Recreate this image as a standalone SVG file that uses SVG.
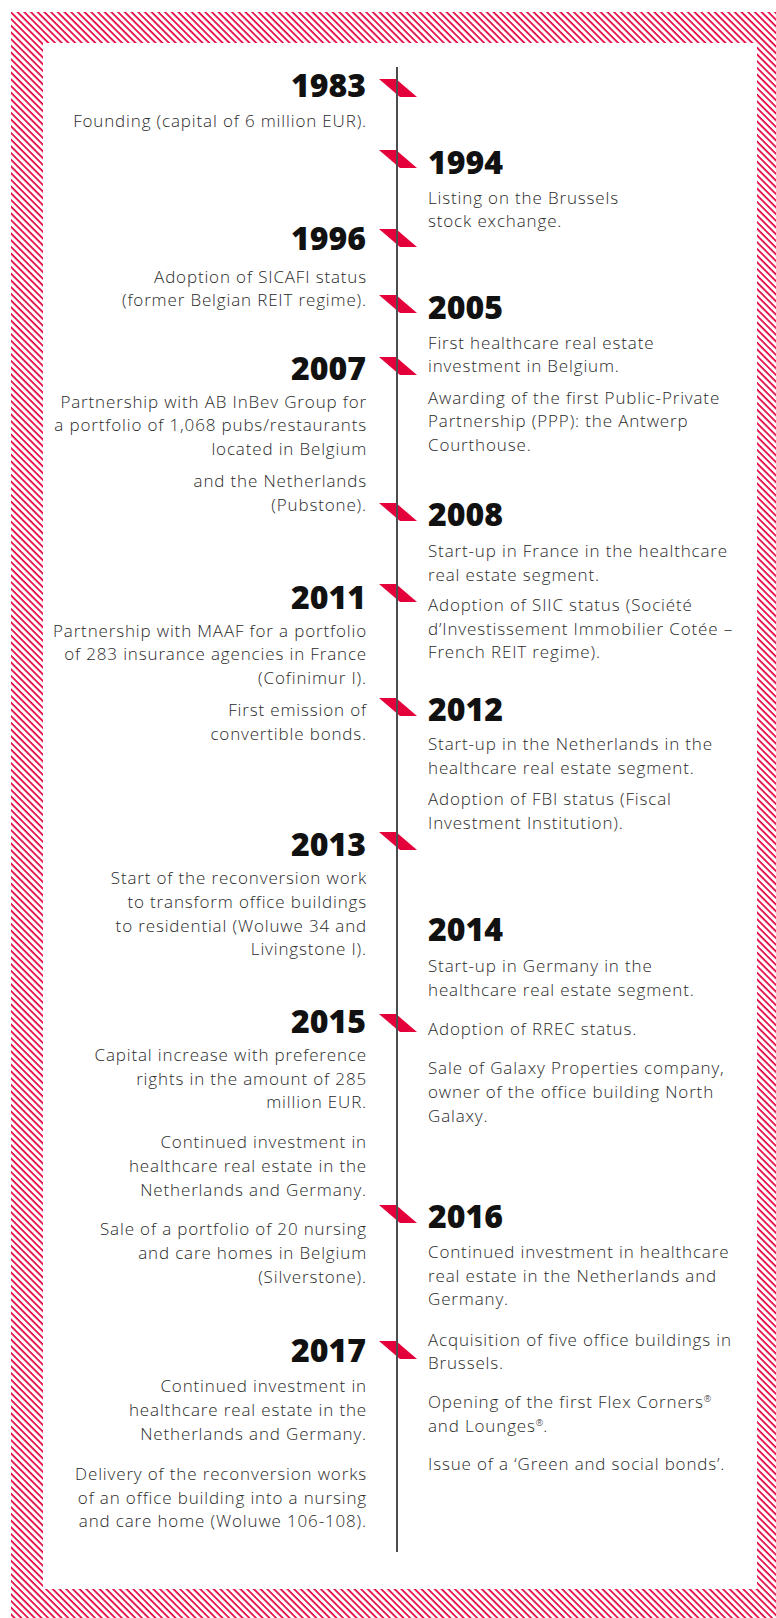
<svg xmlns="http://www.w3.org/2000/svg" width="776" height="1618" viewBox="0 0 776 1618">
<style>
.yr{font-family:"Open Sans","Liberation Sans",sans-serif;font-weight:800;font-size:32px;fill:#111}
.tx{font-family:"Open Sans","Liberation Sans",sans-serif;font-weight:300;font-size:17px;letter-spacing:0.85px;fill:#2a2a2a}
.l{text-anchor:end}
.mk{fill:#e4003b}
.sup{font-size:9px;letter-spacing:0}
</style>
<defs>
<pattern id="hatch" patternUnits="userSpaceOnUse" width="4.74" height="4.74" patternTransform="rotate(45)">
<rect x="0" y="0" width="4.74" height="1.7" fill="#e4003b"/>
</pattern>
<polygon id="mark" class="mk" points="-18,0 -1,0 20,18 3,18"/>
</defs>
<rect width="776" height="1618" fill="#fff"/>
<path id="frame" fill="url(#hatch)" fill-rule="evenodd" d="M11,12 H776 V1618 H11 Z M43,43 V1589 H757 V43 Z"/>

<g id="connectors">
<use href="#mark" x="397" y="79"/>
<use href="#mark" x="397" y="150"/>
<use href="#mark" x="397" y="229"/>
<use href="#mark" x="397" y="295"/>
<use href="#mark" x="397" y="357"/>
<use href="#mark" x="397" y="503"/>
<use href="#mark" x="397" y="584"/>
<use href="#mark" x="397" y="698"/>
<use href="#mark" x="397" y="832"/>
<use href="#mark" x="397" y="1014"/>
<use href="#mark" x="397" y="1205"/>
<use href="#mark" x="397" y="1341"/>
<line x1="397" y1="67" x2="397" y2="1552" stroke="#4d4d4d" stroke-width="2"/>
</g>

<g id="y1983">
<text class="yr l" x="366" y="97">1983</text>
<text class="tx l" x="367" y="127">Founding (capital of 6 million EUR).</text>
</g>
<g id="y1994">
<text class="yr" x="428" y="174">1994</text>
<text class="tx" x="428" y="204">Listing on the Brussels</text>
<text class="tx" x="428" y="227">stock exchange.</text>
</g>
<g id="y1996">
<text class="yr l" x="366" y="250">1996</text>
<text class="tx l" x="367" y="283">Adoption of SICAFI status</text>
<text class="tx l" x="367" y="306">(former Belgian REIT regime).</text>
</g>
<g id="y2005">
<text class="yr" x="428" y="319">2005</text>
<text class="tx" x="428" y="349">First healthcare real estate</text>
<text class="tx" x="428" y="372">investment in Belgium.</text>
<text class="tx" x="428" y="404">Awarding of the first Public-Private</text>
<text class="tx" x="428" y="427">Partnership (PPP): the Antwerp</text>
<text class="tx" x="428" y="451">Courthouse.</text>
</g>
<g id="y2007">
<text class="yr l" x="366" y="380">2007</text>
<text class="tx l" x="367" y="408">Partnership with AB InBev Group for</text>
<text class="tx l" x="367" y="431">a portfolio of 1,068 pubs/restaurants</text>
<text class="tx l" x="367" y="455">located in Belgium</text>
<text class="tx l" x="367" y="487">and the Netherlands</text>
<text class="tx l" x="367" y="511">(Pubstone).</text>
</g>
<g id="y2008">
<text class="yr" x="428" y="526">2008</text>
<text class="tx" x="428" y="557">Start-up in France in the healthcare</text>
<text class="tx" x="428" y="581">real estate segment.</text>
<text class="tx" x="428" y="611">Adoption of SIIC status (Société</text>
<text class="tx" x="428" y="635">d’Investissement Immobilier Cotée –</text>
<text class="tx" x="428" y="658">French REIT regime).</text>
</g>
<g id="y2011">
<text class="yr l" x="366" y="609">2011</text>
<text class="tx l" x="367" y="637">Partnership with MAAF for a portfolio</text>
<text class="tx l" x="367" y="660">of 283 insurance agencies in France</text>
<text class="tx l" x="367" y="684">(Cofinimur I).</text>
<text class="tx l" x="367" y="716">First emission of</text>
<text class="tx l" x="367" y="740">convertible bonds.</text>
</g>
<g id="y2012">
<text class="yr" x="428" y="721">2012</text>
<text class="tx" x="428" y="750">Start-up in the Netherlands in the</text>
<text class="tx" x="428" y="774">healthcare real estate segment.</text>
<text class="tx" x="428" y="805">Adoption of FBI status (Fiscal</text>
<text class="tx" x="428" y="829">Investment Institution).</text>
</g>
<g id="y2013">
<text class="yr l" x="366" y="856">2013</text>
<text class="tx l" x="367" y="884">Start of the reconversion work</text>
<text class="tx l" x="367" y="908">to transform office buildings</text>
<text class="tx l" x="367" y="932">to residential (Woluwe 34 and</text>
<text class="tx l" x="367" y="955">Livingstone I).</text>
</g>
<g id="y2014">
<text class="yr" x="428" y="941">2014</text>
<text class="tx" x="428" y="972">Start-up in Germany in the</text>
<text class="tx" x="428" y="996">healthcare real estate segment.</text>
<text class="tx" x="428" y="1035">Adoption of RREC status.</text>
<text class="tx" x="428" y="1074">Sale of Galaxy Properties company,</text>
<text class="tx" x="428" y="1098">owner of the office building North</text>
<text class="tx" x="428" y="1122">Galaxy.</text>
</g>
<g id="y2015">
<text class="yr l" x="366" y="1033">2015</text>
<text class="tx l" x="367" y="1061">Capital increase with preference</text>
<text class="tx l" x="367" y="1085">rights in the amount of 285</text>
<text class="tx l" x="367" y="1108">million EUR.</text>
<text class="tx l" x="367" y="1148">Continued investment in</text>
<text class="tx l" x="367" y="1172">healthcare real estate in the</text>
<text class="tx l" x="367" y="1196">Netherlands and Germany.</text>
<text class="tx l" x="367" y="1235">Sale of a portfolio of 20 nursing</text>
<text class="tx l" x="367" y="1259">and care homes in Belgium</text>
<text class="tx l" x="367" y="1283">(Silverstone).</text>
</g>
<g id="y2016">
<text class="yr" x="428" y="1228">2016</text>
<text class="tx" x="428" y="1258">Continued investment in healthcare</text>
<text class="tx" x="428" y="1282">real estate in the Netherlands and</text>
<text class="tx" x="428" y="1305">Germany.</text>
<text class="tx" x="428" y="1346">Acquisition of five office buildings in</text>
<text class="tx" x="428" y="1369">Brussels.</text>
<text class="tx" x="428" y="1408">Opening of the first Flex Corners<tspan class="sup" baseline-shift="super">®</tspan></text>
<text class="tx" x="428" y="1432">and Lounges<tspan class="sup" baseline-shift="super">®</tspan>.</text>
<text class="tx" x="428" y="1470">Issue of a ‘Green and social bonds’.</text>
</g>
<g id="y2017">
<text class="yr l" x="366" y="1362">2017</text>
<text class="tx l" x="367" y="1392">Continued investment in</text>
<text class="tx l" x="367" y="1416">healthcare real estate in the</text>
<text class="tx l" x="367" y="1440">Netherlands and Germany.</text>
<text class="tx l" x="367" y="1480">Delivery of the reconversion works</text>
<text class="tx l" x="367" y="1504">of an office building into a nursing</text>
<text class="tx l" x="367" y="1527">and care home (Woluwe 106-108).</text>
</g>
</svg>
